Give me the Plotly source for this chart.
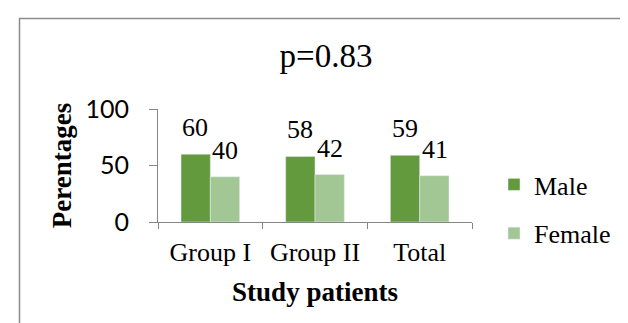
import plotly.graph_objects as go

categories = ["Group I", "Group II", "Total"]
male = [60, 58, 59]
female = [40, 42, 41]
y_ticks = [0, 50, 100]

MALE_C = "#629A3D"
FEMALE_C = "#A3C794"
SERIF = "Liberation Serif, Times New Roman, serif"

fig = go.Figure()
fig.add_trace(go.Bar(name="Male", x=categories, y=male, marker_color=MALE_C,
                     legendgroup="m"))
fig.add_trace(go.Bar(name="Female", x=categories, y=female, marker_color=FEMALE_C,
                     legendgroup="f"))

ann = []
for c, v in zip(categories, male):
    ann.append(dict(x=c, y=v, text=str(v), showarrow=False, xshift=-15, yshift=10,
                    yanchor="bottom", font=dict(family=SERIF, size=26, color="black")))
for c, v in zip(categories, female):
    ann.append(dict(x=c, y=v, text=str(v), showarrow=False, xshift=15, yshift=10,
                    yanchor="bottom", font=dict(family=SERIF, size=26, color="black")))

W, H = 628, 323
L, R, T, B = 150, 628 - 464, 101, 323 - 214
pw, ph = W - L - R, H - T - B

def px(xp):
    return (xp - L) / pw

def py(yp):
    return (H - B - yp) / ph

fig.update_layout(
    width=W, height=H,
    margin=dict(l=L, r=R, t=T, b=B, autoexpand=False),
    paper_bgcolor="white", plot_bgcolor="white",
    barmode="group", bargap=0.44, bargroupgap=0,
    title=dict(text="p=0.83", x=318 / W, xanchor="center", y=1 - 47 / H, yanchor="middle",
               font=dict(family=SERIF, size=33, color="black")),
    showlegend=True,
    legend=dict(x=px(486), xanchor="left", y=py(201), yanchor="middle",
                font=dict(family=SERIF, size=26, color="black"),
                traceorder="grouped", tracegroupgap=12, bgcolor="rgba(0,0,0,0)"),
    annotations=ann,
    shapes=[dict(type="rect", xref="paper", yref="paper",
                 x0=px(11.5), x1=px(660), y0=py(360), y1=py(10.5),
                 line=dict(color="#8C8C8C", width=1.5), fillcolor="rgba(0,0,0,0)",
                 layer="below")],
    xaxis=dict(
        automargin=False,
        showline=True, linecolor="#868686", linewidth=1,
        ticks="outside", tickson="boundaries", ticklen=6, tickcolor="#868686",
        tickfont=dict(family=SERIF, size=26, color="black"),
        ticklabelstandoff=7,
        title=dict(text="<b>Study patients</b>", standoff=15,
                   font=dict(family=SERIF, size=27, color="black")),
        showgrid=False,
    ),
    yaxis=dict(
        automargin=False,
        range=[0, 100], tickvals=y_ticks,
        showline=True, linecolor="#868686", linewidth=1,
        ticks="outside", ticklen=8, tickcolor="#868686",
        tickfont=dict(family="Lato, sans-serif", size=25, color="black"),
        ticklabelstandoff=15,
        title=dict(text="<b>Perentages</b>", standoff=6,
                   font=dict(family=SERIF, size=27, color="black")),
        showgrid=False, zeroline=False,
    ),
)

fig.write_html("out.html")
